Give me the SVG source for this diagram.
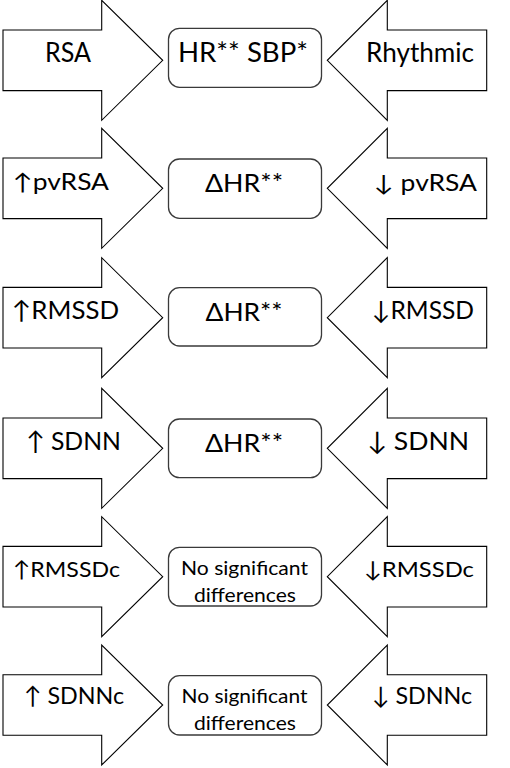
<svg xmlns="http://www.w3.org/2000/svg" width="510" height="768" viewBox="0 0 510 768">
<style>
.arr{fill:#fff;stroke:#000;stroke-width:1.1;stroke-linejoin:miter}
.box{fill:#fff;stroke:#3a3a3a;stroke-width:1.3}
text{font-family:Lato,"DejaVu Sans","Liberation Sans",sans-serif;fill:#000}
</style>
<rect width="510" height="768" fill="#fff"/>
<defs>
<polygon id="la" points="3,-30.3 101.7,-30.3 101.7,-60 162.7,0 101.7,60 101.7,30.3 3,30.3"/>
<polygon id="ra" points="486.7,-30.3 387.3,-30.3 387.3,-60 327.3,0 387.3,60 387.3,30.3 486.7,30.3"/>
</defs>
<g id="connectors">
<use href="#la" class="arr" transform="translate(0,60.3)"/>
<use href="#ra" class="arr" transform="translate(0,60.3)"/>
<use href="#la" class="arr" transform="translate(0,188.3)"/>
<use href="#ra" class="arr" transform="translate(0,188.3)"/>
<use href="#la" class="arr" transform="translate(0,317.7)"/>
<use href="#ra" class="arr" transform="translate(0,317.7)"/>
<use href="#la" class="arr" transform="translate(0,448.3)"/>
<use href="#ra" class="arr" transform="translate(0,448.3)"/>
<use href="#la" class="arr" transform="translate(0,576.7)"/>
<use href="#ra" class="arr" transform="translate(0,576.7)"/>
<use href="#la" class="arr" transform="translate(0,705)"/>
<use href="#ra" class="arr" transform="translate(0,705)"/>
</g>
<g id="row1">
<text x="45" y="61.7" font-size="27" textLength="46" lengthAdjust="spacingAndGlyphs">RSA</text>
<rect class="box" x="168.5" y="28.3" width="153" height="59" rx="11"/>
<text x="178" y="61.7" font-size="27" textLength="130" lengthAdjust="spacingAndGlyphs">HR** SBP*</text>
<text x="366" y="61.7" font-size="27" textLength="108" lengthAdjust="spacingAndGlyphs">Rhythmic</text>
</g>
<g id="row2">
<text x="13" y="190.3" font-size="22.5" textLength="96" lengthAdjust="spacingAndGlyphs">↑pvRSA</text>
<rect class="box" x="168.5" y="159" width="153" height="59.3" rx="11"/>
<text x="205" y="192" font-size="24.5" textLength="78" lengthAdjust="spacingAndGlyphs">ΔHR**</text>
<text x="374" y="190.5" font-size="22.5" textLength="103" lengthAdjust="spacingAndGlyphs">↓ pvRSA</text>
</g>
<g id="row3">
<text x="12" y="319" font-size="25" textLength="107" lengthAdjust="spacingAndGlyphs">↑RMSSD</text>
<rect class="box" x="168.5" y="287.7" width="153" height="58.3" rx="11"/>
<text x="205.5" y="321" font-size="24.5" textLength="77" lengthAdjust="spacingAndGlyphs">ΔHR**</text>
<text x="372" y="318.5" font-size="25" textLength="102" lengthAdjust="spacingAndGlyphs">↓RMSSD</text>
</g>
<g id="row4">
<text x="26" y="450" font-size="25.5" textLength="95" lengthAdjust="spacingAndGlyphs">↑ SDNN</text>
<rect class="box" x="168.5" y="419" width="153" height="58.7" rx="11"/>
<text x="205" y="451.7" font-size="24.5" textLength="78" lengthAdjust="spacingAndGlyphs">ΔHR**</text>
<text x="367" y="450" font-size="25.5" textLength="102" lengthAdjust="spacingAndGlyphs">↓ SDNN</text>
</g>
<g id="row5">
<text x="13" y="576.7" font-size="22" textLength="107" lengthAdjust="spacingAndGlyphs">↑RMSSDc</text>
<rect class="box" x="168.5" y="547.3" width="153" height="58.7" rx="11"/>
<text x="181" y="575" font-size="19" textLength="127" lengthAdjust="spacingAndGlyphs">No significant</text>
<text x="194" y="602" font-size="19" textLength="102" lengthAdjust="spacingAndGlyphs">differences</text>
<text x="364" y="576.7" font-size="22" textLength="110" lengthAdjust="spacingAndGlyphs">↓RMSSDc</text>
</g>
<g id="row6">
<text x="24" y="704" font-size="24" textLength="100" lengthAdjust="spacingAndGlyphs">↑ SDNNc</text>
<rect class="box" x="168.5" y="675.7" width="153" height="59.3" rx="11"/>
<text x="181.5" y="703.3" font-size="19" textLength="126" lengthAdjust="spacingAndGlyphs">No significant</text>
<text x="194" y="730" font-size="19" textLength="102" lengthAdjust="spacingAndGlyphs">differences</text>
<text x="372" y="704" font-size="24" textLength="100" lengthAdjust="spacingAndGlyphs">↓ SDNNc</text>
</g>
</svg>
